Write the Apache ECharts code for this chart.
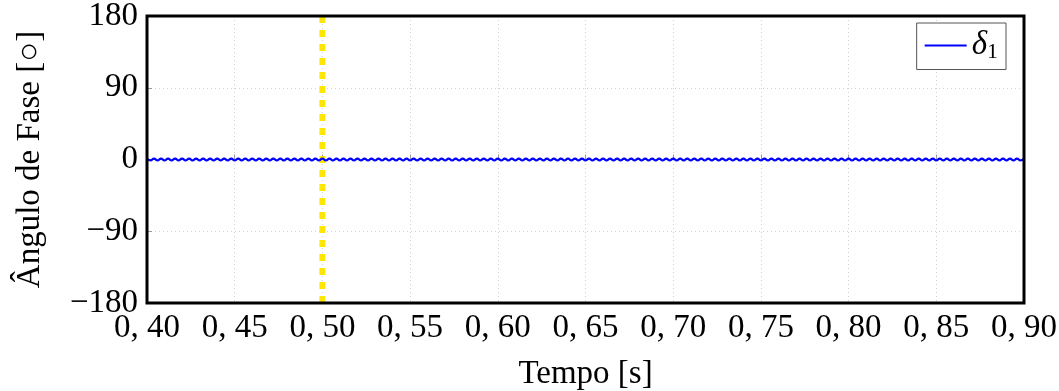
<!DOCTYPE html>
<html>
<head>
<meta charset="utf-8">
<script src="https://cdn.jsdelivr.net/npm/echarts@6/dist/echarts.min.js"></script>
<style>html,body{margin:0;padding:0;background:#fff;}#c{width:1059px;height:391px;}</style>
</head>
<body>
<div id="c"></div>
<script>
// x axis ticks (s)
const xTicks = [0.40, 0.45, 0.50, 0.55, 0.60, 0.65, 0.70, 0.75, 0.80, 0.85, 0.90];
// y axis ticks (degrees)
const yTicks = [-180, -90, 0, 90, 180];
// sampling of delta_1
const tStart = 0.40;
const tStep = 0.002;
// delta_1 values (degrees) (small ripple around 0)
const delta1 = [
1.2,-1.2,1.2,-1.2,1.2,-1.2,1.2,-1.2,1.2,-1.2,
1.2,-1.2,1.2,-1.2,1.2,-1.2,1.2,-1.2,1.2,-1.2,
1.2,-1.2,1.2,-1.2,1.2,-1.2,1.2,-1.2,1.2,-1.2,
1.2,-1.2,1.2,-1.2,1.2,-1.2,1.2,-1.2,1.2,-1.2,
1.2,-1.2,1.2,-1.2,1.2,-1.2,1.2,-1.2,1.2,-1.2,
1.2,-1.2,1.2,-1.2,1.2,-1.2,1.2,-1.2,1.2,-1.2,
1.2,-1.2,1.2,-1.2,1.2,-1.2,1.2,-1.2,1.2,-1.2,
1.2,-1.2,1.2,-1.2,1.2,-1.2,1.2,-1.2,1.2,-1.2,
1.2,-1.2,1.2,-1.2,1.2,-1.2,1.2,-1.2,1.2,-1.2,
1.2,-1.2,1.2,-1.2,1.2,-1.2,1.2,-1.2,1.2,-1.2,
1.2,-1.2,1.2,-1.2,1.2,-1.2,1.2,-1.2,1.2,-1.2,
1.2,-1.2,1.2,-1.2,1.2,-1.2,1.2,-1.2,1.2,-1.2,
1.2,-1.2,1.2,-1.2,1.2,-1.2,1.2,-1.2,1.2,-1.2,
1.2,-1.2,1.2,-1.2,1.2,-1.2,1.2,-1.2,1.2,-1.2,
1.2,-1.2,1.2,-1.2,1.2,-1.2,1.2,-1.2,1.2,-1.2,
1.2,-1.2,1.2,-1.2,1.2,-1.2,1.2,-1.2,1.2,-1.2,
1.2,-1.2,1.2,-1.2,1.2,-1.2,1.2,-1.2,1.2,-1.2,
1.2,-1.2,1.2,-1.2,1.2,-1.2,1.2,-1.2,1.2,-1.2,
1.2,-1.2,1.2,-1.2,1.2,-1.2,1.2,-1.2,1.2,-1.2,
1.2,-1.2,1.2,-1.2,1.2,-1.2,1.2,-1.2,1.2,-1.2,
1.2,-1.2,1.2,-1.2,1.2,-1.2,1.2,-1.2,1.2,-1.2,
1.2,-1.2,1.2,-1.2,1.2,-1.2,1.2,-1.2,1.2,-1.2,
1.2,-1.2,1.2,-1.2,1.2,-1.2,1.2,-1.2,1.2,-1.2,
1.2,-1.2,1.2,-1.2,1.2,-1.2,1.2,-1.2,1.2,-1.2,
1.2,-1.2,1.2,-1.2,1.2,-1.2,1.2,-1.2,1.2,-1.2,
1.2
];
// event marker (vertical dashed line)
const eventTime = [0.50, 0.50];
const eventRange = [-180, 180];

const labels = {xName: 'Tempo [s]', yName: 'Ângulo de Fase [○]', series: 'δ1'};

const lineData = delta1.map((v, i) => [tStart + i * tStep, v]);
const eventData = eventTime.map((t, i) => [t, eventRange[i]]);

const FONT = 'Liberation Serif';
const FS = 33;
const chart = echarts.init(document.getElementById('c'), null, {renderer: 'canvas'});
chart.setOption({
  animation: false,
  backgroundColor: '#fff',
  grid: {left: 147, right: 35, top: 16, bottom: 88, show: true, borderColor: '#000', borderWidth: 3,
    backgroundColor: 'transparent', z: 5, containLabel: false, outerBoundsMode: 'none'},
  legend: {
    data: [labels.series],
    right: 53, top: 23,
    orient: 'vertical',
    backgroundColor: '#fff',
    borderColor: '#555', borderWidth: 1,
    padding: [6, 8, 6, 8],
    icon: 'rect',
    itemWidth: 42, itemHeight: 2, itemGap: 6,
    formatter: () => '{d|δ}{s|1}',
    textStyle: {
      rich: {
        d: {fontFamily: FONT, fontStyle: 'italic', fontSize: FS, color: '#000'},
        s: {fontFamily: FONT, fontSize: 22, color: '#000', verticalAlign: 'bottom', padding: [14, 0, 0, 0]}
      }
    }
  },
  xAxis: {
    type: 'value', min: xTicks[0], max: xTicks[xTicks.length - 1], interval: 0.05,
    name: labels.xName, nameLocation: 'middle', nameGap: 55,
    nameTextStyle: {fontFamily: FONT, fontSize: FS, color: '#000'},
    axisLine: {show: false},
    axisTick: {show: true, inside: true, length: 5, lineStyle: {color: '#999'}},
    axisLabel: {margin: 9, fontFamily: FONT, fontSize: FS, color: '#000',
      formatter: v => v.toFixed(2).replace('.', ', ')},
    splitLine: {show: true, lineStyle: {color: '#d0d0d0', type: [1, 3], width: 1}}
  },
  yAxis: {
    type: 'value', min: yTicks[0], max: yTicks[yTicks.length - 1], interval: 90,
    name: labels.yName, nameLocation: 'middle', nameGap: 100,
    nameTextStyle: {fontFamily: FONT, fontSize: FS, color: '#000'},
    axisLine: {show: false},
    axisTick: {show: true, inside: true, length: 5, lineStyle: {color: '#999'}},
    axisLabel: {margin: 9, fontFamily: FONT, fontSize: FS, color: '#000',
      formatter: v => v < 0 ? '\u2212' + Math.abs(v) : String(v)},
    splitLine: {show: true, lineStyle: {color: '#d0d0d0', type: [1, 3], width: 1}}
  },
  series: [
    {
      name: 'event', type: 'line', data: eventData, symbol: 'none', silent: true,
      lineStyle: {color: '#ffe600', width: 6, type: [7, 7]}, z: 1
    },
    {
      name: labels.series, type: 'line', data: lineData, symbol: 'none', showSymbol: false,
      smooth: 0.5,
      lineStyle: {color: '#0000ff', width: 2.2}, itemStyle: {color: '#0000ff'}, z: 3
    }
  ]
});
</script>
</body>
</html>
